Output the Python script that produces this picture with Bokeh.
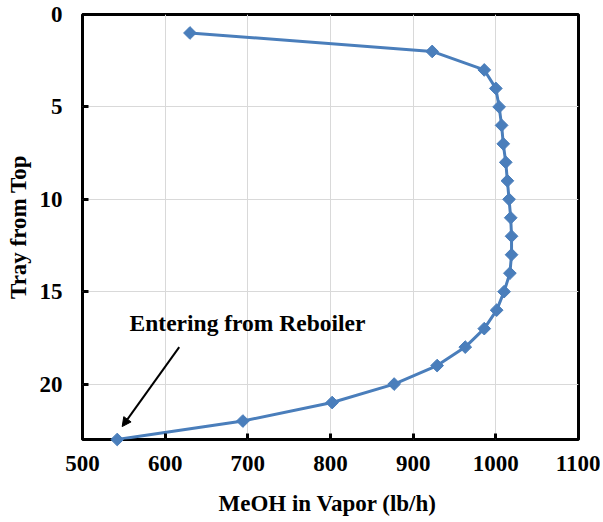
from bokeh.plotting import figure
from bokeh.models import Range1d, FixedTicker, Label, Arrow, NormalHead, ColumnDataSource
from bokeh.embed import file_html
from bokeh.resources import INLINE
import math

# Data
trays = list(range(1, 24))
meoh_vapor = [630, 923, 986, 1000, 1004, 1007, 1009, 1012, 1014, 1016, 1018, 1019,
              1019, 1017, 1010, 1001, 986, 963, 929, 877, 802, 694, 542]
x_ticks = [500, 600, 700, 800, 900, 1000, 1100]
y_ticks = [0, 5, 10, 15, 20]

FONT = "Liberation Serif"
BLUE = "#4a7ebb"

p = figure(width=600, height=518, output_backend="svg", toolbar_location=None,
           x_range=Range1d(500, 1100), y_range=Range1d(23, 0),
           min_border_left=82, min_border_right=22, min_border_top=14, min_border_bottom=78)

p.outline_line_color = "black"
p.outline_line_width = 3
p.background_fill_color = "white"
p.border_fill_color = "white"

for ax in (p.xaxis[0], p.yaxis[0]):
    ax.axis_line_color = None
    ax.major_tick_in = 6
    ax.major_tick_out = 0
    ax.major_tick_line_width = 3
    ax.major_tick_line_color = "black"
    ax.minor_tick_line_color = None
    ax.major_label_text_font = FONT
    ax.major_label_text_font_style = "bold"
    ax.major_label_text_font_size = "23px"
    ax.major_label_text_color = "black"
    ax.axis_label_text_font = FONT
    ax.axis_label_text_font_style = "bold"
    ax.axis_label_text_font_size = "23px"
    ax.axis_label_text_color = "black"

p.xaxis.ticker = FixedTicker(ticks=x_ticks)
p.yaxis.ticker = FixedTicker(ticks=y_ticks)
p.xaxis.axis_label = "MeOH in Vapor  (lb/h)"
p.yaxis.axis_label = "Tray from Top"
p.xaxis.major_label_standoff = 16
p.xaxis.axis_label_standoff = 17
p.yaxis.major_label_standoff = 20
p.yaxis.axis_label_standoff = 6

p.xgrid.ticker = FixedTicker(ticks=x_ticks)
p.ygrid.ticker = FixedTicker(ticks=y_ticks)
p.grid.grid_line_color = "#d9d9d9"
p.grid.grid_line_width = 1

src = ColumnDataSource(data=dict(x=meoh_vapor, y=trays))
p.line("x", "y", source=src, line_color=BLUE, line_width=3)
pts = p.scatter("x", "y", source=src, marker="square", size=9, angle=math.pi / 4,
                fill_color=BLUE, line_color=BLUE, level="overlay")
for r in (pts,):
    if "clip" in r.properties():
        r.clip = False

p.add_layout(Label(x=557, y=16.67, text="Entering from Reboiler", text_font=FONT,
                   text_font_style="bold", text_font_size="23.5px", text_color="black",
                   text_baseline="middle", text_align="left"))
p.add_layout(Arrow(end=NormalHead(size=9, fill_color="black", line_color="black"),
                   x_start=617, y_start=18.0, x_end=548, y_end=22.3,
                   line_color="black", line_width=2))

open("out.html", "w").write(file_html(p, INLINE))
